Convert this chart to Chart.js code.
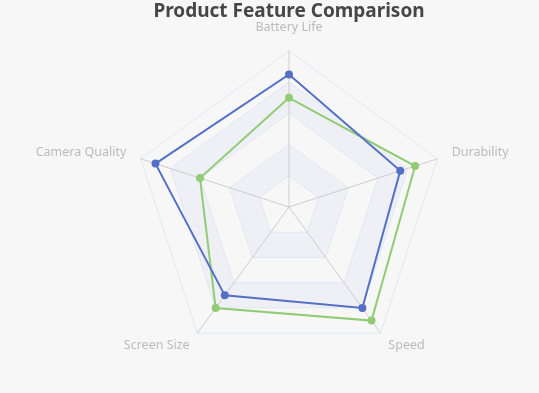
<!DOCTYPE html>
<html>
<head>
<meta charset="utf-8">
<script src="https://cdn.jsdelivr.net/npm/chart.js@4/dist/chart.umd.min.js"></script>
<style>
    html, body { margin: 0; padding: 0; background: #f7f7f7; }
    #wrap { width: 539px; height: 393px; }
</style>
</head>
<body>
<div id="wrap"><canvas id="radar"></canvas></div>
<script>
const features = ['Battery Life', 'Durability', 'Speed', 'Screen Size', 'Camera Quality'];
const productA = [85, 75, 80, 70, 90];
const productB = [70, 85, 90, 80, 60];
const scaleMax = 100;
const scaleStep = 20;

// where the radar sits inside the canvas
const RADAR_CX = 289;
const RADAR_CY = 207;
const RADAR_R = 156;

// alternating pentagon bands like the echarts split areas
const splitAreaPlugin = {
    id: 'splitArea',
    beforeDraw (chart) {
        const scale = chart.scales.r;
        const ctx = chart.ctx;
        const n = features.length;
        const colors = ['rgba(250,250,250,0.2)', 'rgba(210,219,238,0.25)'];
        ctx.save();
        for (let v = scaleMax, band = scaleMax / scaleStep - 1; v > 0; v -= scaleStep, band--) {
            const outer = scale.getDistanceFromCenterForValue(v);
            const inner = scale.getDistanceFromCenterForValue(v - scaleStep);
            ctx.beginPath();
            for (let i = 0; i < n; i++) {
                const p = scale.getPointPosition(i, outer);
                i === 0 ? ctx.moveTo(p.x, p.y) : ctx.lineTo(p.x, p.y);
            }
            ctx.closePath();
            for (let i = n - 1; i >= 0; i--) {
                const p = scale.getPointPosition(i, inner);
                i === n - 1 ? ctx.moveTo(p.x, p.y) : ctx.lineTo(p.x, p.y);
            }
            ctx.closePath();
            ctx.fillStyle = colors[band % 2];
            ctx.fill('evenodd');
        }
        ctx.restore();
    }
};

new Chart(document.getElementById('radar'), {
    type: 'radar',
    data: {
        labels: features,
        datasets: [
            {
                label: 'Product A',
                data: productA,
                borderColor: '#5470c6',
                backgroundColor: '#5470c6',
                pointBackgroundColor: '#5470c6',
                borderWidth: 2,
                pointRadius: 4,
                pointBorderWidth: 0,
                fill: false
            },
            {
                label: 'Product B',
                data: productB,
                borderColor: '#91cc75',
                backgroundColor: '#91cc75',
                pointBackgroundColor: '#91cc75',
                borderWidth: 2,
                pointRadius: 4,
                pointBorderWidth: 0,
                fill: false
            }
        ]
    },
    plugins: [splitAreaPlugin],
    options: {
        responsive: true,
        maintainAspectRatio: false,
        animation: false,
        layout: { padding: { left: 39 } },
        plugins: {
            legend: { display: false },
            tooltip: { enabled: false },
            title: {
                display: true,
                text: 'Product Feature Comparison',
                color: '#464646',
                font: { family: '"Noto Sans"', size: 19, weight: 'bold' },
                padding: { top: 0, bottom: 4 }
            }
        },
        scales: {
            r: {
                min: 0,
                max: scaleMax,
                ticks: { display: false, stepSize: scaleStep },
                grid: { color: '#e0e6f1', lineWidth: 1 },
                angleLines: { color: '#cccccc', lineWidth: 1 },
                pointLabels: {
                    color: '#bbbbbb',
                    // tiny line height so the text sits centred on the label anchor
                    font: { family: '"Noto Sans"', size: 12.5, lineHeight: 0.2 },
                    padding: ctx => [22, 15, 13, 13, 15][ctx.index]
                },
                afterFit (scale) {
                    // pin the radar to the reference position, then rebuild the label boxes
                    scale.xCenter = RADAR_CX;
                    scale.yCenter = RADAR_CY;
                    scale.drawingArea = RADAR_R;
                    const setCenter = scale.setCenterPoint;
                    scale.setCenterPoint = () => {};
                    scale.fit();
                    scale.setCenterPoint = setCenter;
                }
            }
        }
    }
});
</script>
</body>
</html>
